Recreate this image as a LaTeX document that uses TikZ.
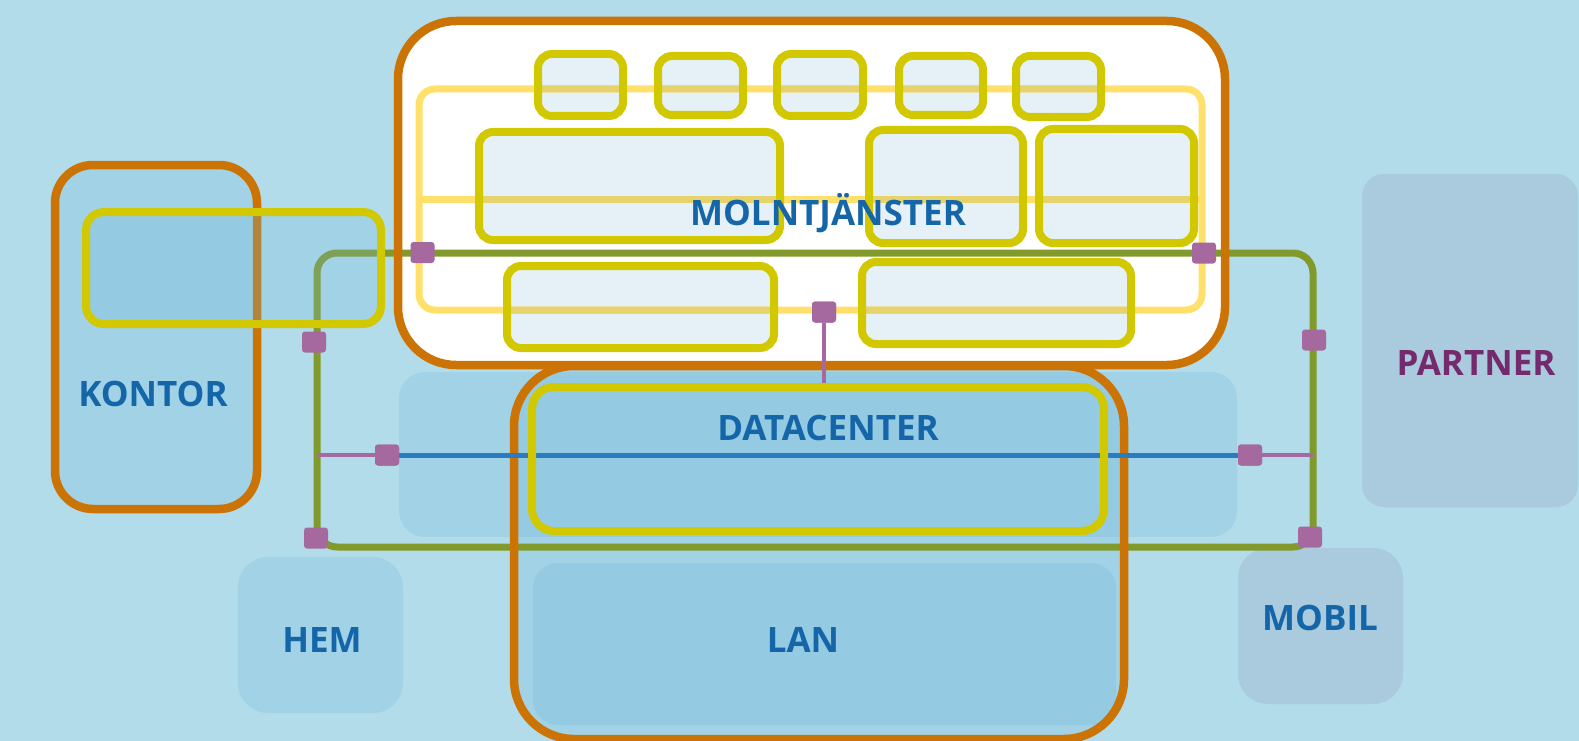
\documentclass[tikz,border=0pt]{standalone}
\usepackage{fontspec}
\setmainfont{Open Sans}
\definecolor{bgblue}{HTML}{B2DCE9}
\definecolor{tintblue}{HTML}{72B8DD}
\definecolor{greyblue}{HTML}{A9CBDD}
\definecolor{rustorange}{HTML}{CC7306}
\definecolor{olive}{HTML}{D2C800}
\definecolor{paleyellow}{HTML}{FFE06A}
\definecolor{dimyellow}{HTML}{E6D36B}
\definecolor{svcwhite}{HTML}{E6F0F7}
\definecolor{netgreen}{HTML}{819A2B}
\definecolor{portpurple}{HTML}{A5699F}
\definecolor{linkblue}{HTML}{2A7BC0}
\definecolor{labelblue}{HTML}{1466A8}
\definecolor{labelpurple}{HTML}{742A6C}
\tikzset{
  boxbase/.style={rectangle, inner sep=0pt, outer sep=0pt},
  zonebox/.style={boxbase, fill=tintblue, fill opacity=0.25, rounded corners=#1},
  partbox/.style={boxbase, fill=greyblue, rounded corners=#1},
  sitebox/.style={boxbase, fill=tintblue, fill opacity=0.25, draw=rustorange, draw opacity=1, line width=8.5pt, rounded corners=#1},
  cloudfill/.style={boxbase, fill=white, rounded corners=58pt},
  orangeline/.style={draw=rustorange, line width=8.5pt},
  svcfill/.style={boxbase, fill=svcwhite, rounded corners=14pt},
  svcline/.style={draw=olive, line width=8pt, rounded corners=14pt},
  frameline/.style={draw=paleyellow, line width=7pt},
  greenline/.style={draw=netgreen, line width=7pt, rounded corners=20pt},
  portbox/.style={boxbase, fill=portpurple, minimum width=24pt, minimum height=21pt, rounded corners=3pt},
  purpleline/.style={draw=portpurple, line width=4pt},
  blueline/.style={draw=linkblue, line width=5pt},
  lbltext/.style={anchor=base, inner sep=0pt, text=labelblue, font=\fontsize{35}{40}\selectfont\bfseries},
}
\begin{document}
\begin{tikzpicture}[x=1pt,y=-1pt]
\useasboundingbox[fill=bgblue] (0,0) rectangle (1579,741);

% background zones
\node[zonebox=26pt, minimum width=838pt, minimum height=165pt] (dczone) at (818,454.5) {};
\node[zonebox=30pt, minimum width=165pt, minimum height=156pt] (hem) at (320.5,635) {};
\node[partbox=22pt, minimum width=216pt, minimum height=333pt] (partner) at (1470,340.5) {};
\node[partbox=30pt, minimum width=165pt, minimum height=156pt] (mobil) at (1320.5,626) {};

% office site
\node[sitebox=38pt, minimum width=202pt, minimum height=344pt] (kontor) at (156,337) {};

% LAN site (border added later)
\node[zonebox=60pt, minimum width=610pt, minimum height=373pt] (lansite) at (819,552.5) {};
\node[zonebox=25pt, minimum width=583pt, minimum height=162pt] (lan) at (824.5,644) {};

% cloud area
\node[cloudfill, minimum width=827pt, minimum height=344pt] (cloud) at (811.5,193) {};

% cloud services
\node[svcfill, minimum width=85pt, minimum height=62pt] (b1) at (580.5,85) {};
\node[svcfill, minimum width=85pt, minimum height=59pt] (b2) at (700.5,85.5) {};
\node[svcfill, minimum width=86pt, minimum height=62pt] (b3) at (820,85) {};
\node[svcfill, minimum width=84pt, minimum height=59pt] (b4) at (941,85.5) {};
\node[svcfill, minimum width=85pt, minimum height=61pt] (b5) at (1058.5,86.5) {};
\node[svcfill, minimum width=301pt, minimum height=108pt] (m1) at (629.5,186) {};
\node[svcfill, minimum width=154pt, minimum height=113pt] (m2) at (946,186.5) {};
\node[svcfill, minimum width=155pt, minimum height=114pt] (m3) at (1116.5,186) {};
\node[svcfill, minimum width=267pt, minimum height=82pt] (l1) at (640.5,307) {};
\node[svcfill, minimum width=269pt, minimum height=82pt] (l2) at (996.5,303) {};

% service frame
\node[boxbase, frameline, rounded corners=16pt, minimum width=783pt, minimum height=221pt] (svcframe) at (810.5,199.5) {};
\draw[frameline] (svcframe.west) -- (svcframe.east);
\begin{scope}
  \clip[rounded corners=14pt]
    (b1.south west) rectangle (b1.north east)
    (b2.south west) rectangle (b2.north east)
    (b3.south west) rectangle (b3.north east)
    (b4.south west) rectangle (b4.north east)
    (b5.south west) rectangle (b5.north east)
    (m1.south west) rectangle (m1.north east)
    (m2.south west) rectangle (m2.north east)
    (m3.south west) rectangle (m3.north east)
    (l1.south west) rectangle (l1.north east)
    (l2.south west) rectangle (l2.north east);
  \draw[frameline, draw=dimyellow, rounded corners=16pt] (svcframe.south west) rectangle (svcframe.north east);
  \draw[frameline, draw=dimyellow] (svcframe.west) -- (svcframe.east);
\end{scope}
\foreach \n in {b1,b2,b3,b4,b5,m1,m2,m3,l1,l2}
  \draw[svcline] (\n.south west) rectangle (\n.north east);

\node[lbltext] (molntext) at (828,225) {MOLNTJÄNSTER};

% network ring
\coordinate (gtl) at (317,253);
\coordinate (gbr) at (1313,547);
\draw[greenline] (gtl) rectangle (gbr);

% cloud and LAN borders
\draw[orangeline, rounded corners=58pt] (cloud.south west) rectangle (cloud.north east);
\draw[orangeline, rounded corners=60pt] (lansite.south west) rectangle (lansite.north east);

% ports
\node[portbox] (p1) at (422.5,252.5) {};
\node[portbox] (p2) at (314,342) {};
\node[portbox] (p3) at (387,455) {};
\node[portbox] (p4) at (316,538) {};
\node[portbox] (p5) at (1204,253) {};
\node[portbox] (p6) at (1314,340) {};
\node[portbox] (p7) at (1250,455) {};
\node[portbox] (p8) at (1310,537) {};
\node[portbox] (p9) at (824,312) {};

% links
\coordinate (ringl) at (317,455);
\coordinate (ringr) at (1313,455);
\coordinate (dctop) at (824,387);
\draw[blueline] (p3) -- (p7);
\draw[purpleline] (ringl) -- (p3.west);
\draw[purpleline] (p7.east) -- (ringr);
\draw[purpleline] (p9.south) -- (dctop);
\node[portbox] at (p3) {};
\node[portbox] at (p7) {};
\node[portbox] at (p9) {};

% office and datacenter groups
\node[sitebox=18pt, draw=olive, line width=8pt, minimum width=295pt, minimum height=112pt] (kontorgrp) at (233.5,268) {};
\node[boxbase, draw=olive, line width=8pt, rounded corners=22pt, minimum width=572pt, minimum height=144pt] (dcgrp) at (818,459) {};

% labels
\node[lbltext] (kontortext) at (153,406) {KONTOR};
\node[lbltext] (dctext) at (828,440) {DATACENTER};
\node[lbltext] (lantext) at (803,652) {LAN};
\node[lbltext] (hemtext) at (322,652) {HEM};
\node[lbltext] (mobiltext) at (1320,630) {MOBIL};
\node[lbltext, text=labelpurple] (partnertext) at (1476,375) {PARTNER};
\end{tikzpicture}
\end{document}
